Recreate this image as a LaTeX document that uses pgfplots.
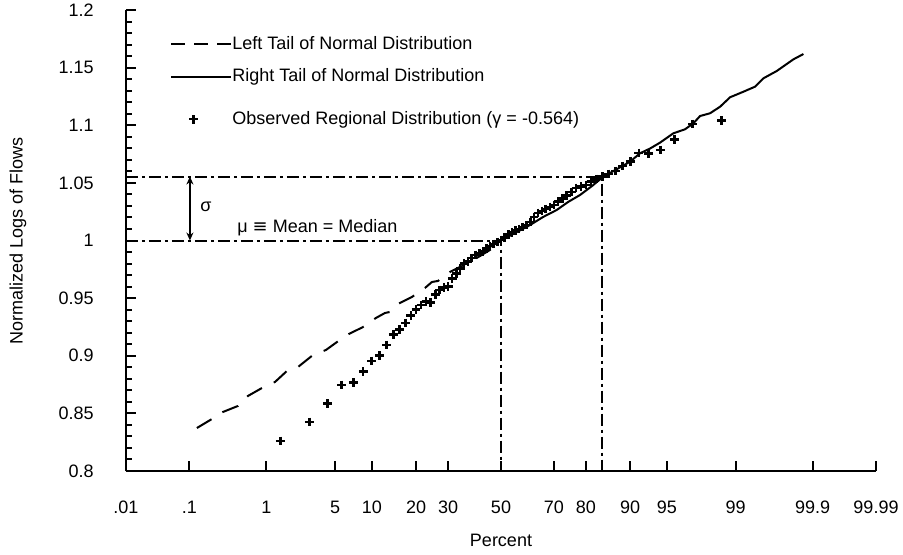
\documentclass[border=0pt]{standalone}
\usepackage{fontspec}
\setmainfont{Liberation Sans}
\newfontfamily\symfont{DejaVu Sans}
\usepackage{pgfplots}
\pgfplotsset{compat=1.18}
\usetikzlibrary{arrows.meta}

\begin{document}
\fontsize{9bp}{11bp}\selectfont
\begin{tikzpicture}
\begin{axis}[
    name=ax,
    scale only axis,
    width=375bp, height=230.5bp,
    xmin=-3.719, xmax=3.719, ymin=0.8, ymax=1.2,
    axis x line*=bottom, axis y line*=left,
    axis line style={-, line width=1bp},
    xtick align=inside, ytick align=inside,
    major tick length=5bp, minor tick length=3bp,
    every tick/.append style={black, line width=1bp},
    xtick={-3.719,-3.090,-2.326,-1.645,-1.2816,-0.8416,-0.5244,0,0.5244,0.8416,1.2816,1.645,2.326,3.090,3.719},
    xticklabels={.01,.1,1,5,10,20,30,50,70,80,90,95,99,99.9,99.99},
    ytick={0.8,0.85,0.9,0.95,1,1.05,1.1,1.15,1.2},
    yticklabels={0.8,0.85,0.9,0.95,1,1.05,1.1,1.15,1.2},
    xticklabel style={anchor=center, yshift=-18bp},
    yticklabel style={anchor=east, xshift=-13bp},
    xlabel={Percent},
    ylabel={Normalized Logs of Flows},
    every axis x label/.style={at={(axis description cs:0.5,-0.1497)}, anchor=center},
    every axis y label/.style={at={(axis description cs:-0.144,0.5)}, rotate=90, anchor=center},
    legend style={draw=none, fill=none, at={(axis description cs:0.0587,0.9507)},
        anchor=north west, inner sep=0pt, row sep=5.4bp, column sep=-1.5bp,
        nodes={inner sep=1.5bp}},
    legend cell align=left,
]
% y tick marks, inside the axis
\pgfplotsinvokeforeach{0.85,0.9,0.95,1,1.05,1.1,1.15,1.2}{
    \draw[black, line width=1bp] (axis cs:-3.719,#1) -- (axis cs:-3.6297,#1);
}
\pgfplotsinvokeforeach{0.81,0.82,0.83,0.84,0.86,0.87,0.88,0.89,0.91,0.92,0.93,0.94,0.96,0.97,0.98,0.99,
        1.01,1.02,1.03,1.04,1.06,1.07,1.08,1.09,1.11,1.12,1.13,1.14,1.16,1.17,1.18,1.19}{
    \draw[black, line width=1bp] (axis cs:-3.719,#1) -- (axis cs:-3.6595,#1);
}

% reference lines for mean and one sigma
\addplot[forget plot, black, line width=1bp, dash pattern=on 6bp off 2bp on 1.5bp off 2bp]
    coordinates {(-3.719,1.0) (0,1.0) (0,0.8)};
\addplot[forget plot, black, line width=1bp, dash pattern=on 6bp off 2bp on 1.5bp off 2bp]
    coordinates {(-3.719,1.0555) (1,1.0555) (1,0.8)};

\addplot[black, line width=1bp, dash pattern=on 8.5bp off 6.5bp,
    legend image code/.code={\draw[black, line width=1bp, dash pattern=on 7bp off 4.5bp] (0bp,0bp) -- (30bp,0bp);}]
    coordinates {
    (-3.016,0.8373) (-2.867,0.8451) (-2.758,0.8512) (-2.609,0.8564) (-2.510,0.8651)
    (-2.371,0.8720) (-2.242,0.8772) (-2.123,0.8868) (-2.014,0.8902) (-1.865,0.9006)
    (-1.736,0.9050) (-1.627,0.9119) (-1.508,0.9189) (-1.369,0.9249) (-1.240,0.9328)
    (-1.151,0.9371) (-1.101,0.9380) (-1.022,0.9449) (-0.883,0.9510) (-0.754,0.9588)
    (-0.685,0.9640) (-0.625,0.9649) (-0.506,0.9727) (-0.308,0.9813) (-0.109,0.9918)
    (0,1.0)
    };
\addlegendentry{Left Tail of Normal Distribution}

\addplot[black, line width=1bp,
    legend image code/.code={\draw[black, line width=1bp] (0bp,0bp) -- (30bp,0bp);}]
    coordinates {
    (-0.208,0.9889) (-0.109,0.9944) (0,1.0) (0.139,1.0065) (0.288,1.0134)
    (0.417,1.0204) (0.553,1.0265) (0.665,1.0334) (0.784,1.0395) (0.903,1.0473)
    (1.015,1.0554) (1.151,1.0620) (1.280,1.0684) (1.379,1.0757) (1.478,1.0798)
    (1.577,1.0849) (1.709,1.0930) (1.825,1.0965) (1.908,1.1017) (1.974,1.1080)
    (2.073,1.1104) (2.173,1.1161) (2.272,1.1243) (2.404,1.1291) (2.520,1.1335)
    (2.602,1.1407) (2.735,1.1471) (2.900,1.1572) (2.999,1.1618)
    };
\addlegendentry{Right Tail of Normal Distribution}

\addplot[only marks, black, mark=+, mark size=2.2bp, mark options={line width=1.3bp},
    legend image code/.code={\draw[black, line width=1.3bp]
        (8.8bp,-5bp) -- (13.2bp,-5bp) (11bp,-7.2bp) -- (11bp,-2.8bp);}]
    coordinates {
    (-2.189,0.8260) (-1.902,0.8425) (-1.718,0.8586) (-1.579,0.8746) (-1.465,0.8768)
    (-1.367,0.8862) (-1.282,0.8954) (-1.204,0.9000) (-1.133,0.9093) (-1.068,0.9187)
    (-1.006,0.9230) (-0.949,0.9284) (-0.894,0.9349) (-0.842,0.9400) (-0.792,0.9440)
    (-0.744,0.9469) (-0.697,0.9462) (-0.652,0.9533) (-0.608,0.9571) (-0.566,0.9594)
    (-0.524,0.9599) (-0.484,0.9672) (-0.444,0.9715) (-0.405,0.9759) (-0.366,0.9802)
    (-0.328,0.9816) (-0.290,0.9848) (-0.253,0.9874) (-0.216,0.9892) (-0.180,0.9903)
    (-0.144,0.9932) (-0.108,0.9952) (-0.072,0.9970) (-0.036,0.9987) (0.000,1.0004)
    (0.036,1.0026) (0.072,1.0052) (0.108,1.0069) (0.144,1.0087) (0.180,1.0100)
    (0.216,1.0117) (0.253,1.0135) (0.290,1.0161) (0.328,1.0204) (0.366,1.0239)
    (0.405,1.0256) (0.444,1.0273) (0.484,1.0291) (0.524,1.0308) (0.566,1.0337)
    (0.608,1.0364) (0.652,1.0390) (0.697,1.0421) (0.744,1.0456) (0.792,1.0469)
    (0.842,1.0482) (0.894,1.0512) (0.949,1.0534) (1.006,1.0554) (1.068,1.0577)
    (1.133,1.0603) (1.204,1.0646) (1.282,1.0685) (1.367,1.0759) (1.465,1.0757)
    (1.579,1.0785) (1.718,1.0878) (1.902,1.1011) (2.189,1.1040)
    };
\addlegendentry{\raisebox{-5bp}[6.6bp][1.9bp]{Observed Regional Distribution (γ = -0.564)}}

\draw[{Stealth[length=4bp,width=3.5bp]}-{Stealth[length=4bp,width=3.5bp]}, line width=1bp]
    (axis cs:-3.085,1.0) -- (axis cs:-3.085,1.0555);
\node[anchor=center] at (axis cs:-2.927,1.0293) {σ};
\node[anchor=west, inner sep=0pt] at (axis cs:-2.619,1.0108) {μ {\symfont ≡} Mean = Median};
\end{axis}
\pgfresetboundingbox
\path[use as bounding box] ([shift={(-63bp,-42bp)}]ax.south west) rectangle ([shift={(13.5bp,5bp)}]ax.north east);
\end{tikzpicture}
\end{document}
